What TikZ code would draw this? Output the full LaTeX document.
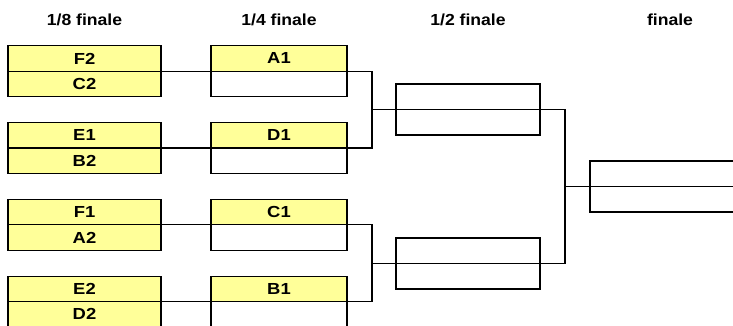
\documentclass[tikz,border=0pt]{standalone}
\usepackage{fontspec}
\setmainfont{Liberation Sans}
\usepackage{graphicx}
\usetikzlibrary{positioning}
\newcommand{\stretched}[2][1.15]{\scalebox{#1}[1]{#2}}
\definecolor{paleyellow}{HTML}{FFFF99}
\tikzset{
bracket/.style = { x = 1pt, y = -1pt, line width = 1.2pt },
cell/.style = { draw, rectangle, inner sep = 0pt, outer sep = 0pt, minimum height = 25.5pt, font = \fontsize{16}{16}\selectfont\bfseries },
team/.style = { cell, fill = paleyellow },
heading/.style = { font = \fontsize{16}{16}\selectfont\bfseries }
}

\begin{document}
\begin{tikzpicture}[bracket]
	\useasboundingbox (0,0) rectangle (733,325);
	\clip (0,0) rectangle (733,325);
	% headings
	\node[heading] (h8) at (84.5,20) {\stretched[1.1]{1/8 finale}};
	\node[heading] (h4) at (279,20) {\stretched[1.1]{1/4 finale}};
	\node[heading] (h2) at (468,20) {\stretched[1.1]{1/2 finale}};
	\node[heading] (h1) at (670,20) {\stretched[1.1]{finale}};
	% 1/8 and 1/4 finale
	\foreach \i/\p/\q/\w in {1/F2/C2/A1, 2/E1/B2/D1, 3/F1/A2/C1, 4/E2/D2/B1}{
		\pgfmathsetmacro\ytop{45.7+76.8*(\i-1)}
		\node[team, minimum width = 153pt] (e\i-t) at (84.5,\ytop+12.75) {\stretched{\p}};
		\node[team, minimum width = 153pt, below = 0pt of e\i-t] (e\i-b) {\stretched{\q}};
		\node[team, minimum width = 136pt] (f\i-t) at (279,\ytop+12.75) {\stretched{\w}};
		\node[cell, minimum width = 136pt, below = 0pt of f\i-t] (f\i-b) {};
		\draw (e\i-t.south east) -- (f\i-t.south west);
	}
	% 1/2 finale
	\node[cell, minimum width = 144pt] (s1-t) at (468,96.75) {};
	\node[cell, minimum width = 144pt, below = 0pt of s1-t] (s1-b) {};
	\node[cell, minimum width = 144pt] (s2-t) at (468,250.75) {};
	\node[cell, minimum width = 144pt, below = 0pt of s2-t] (s2-b) {};
	% finale
	\node[cell, minimum width = 160pt] (fin-t) at (670,173.75) {};
	\node[cell, minimum width = 160pt, below = 0pt of fin-t] (fin-b) {};
	% connectors
	\draw (s1-t.south west) -- ++(-24,0) coordinate (j1);
	\draw (f1-t.south east) -| (j1) |- (f2-t.south east);
	\draw (s2-t.south west) -- ++(-24,0) coordinate (j2);
	\draw (f3-t.south east) -| (j2) |- (f4-t.south east);
	\draw (fin-t.south west) -- ++(-25,0) coordinate (j3);
	\draw (s1-t.south east) -| (j3) |- (s2-t.south east);
\end{tikzpicture}
\end{document}
